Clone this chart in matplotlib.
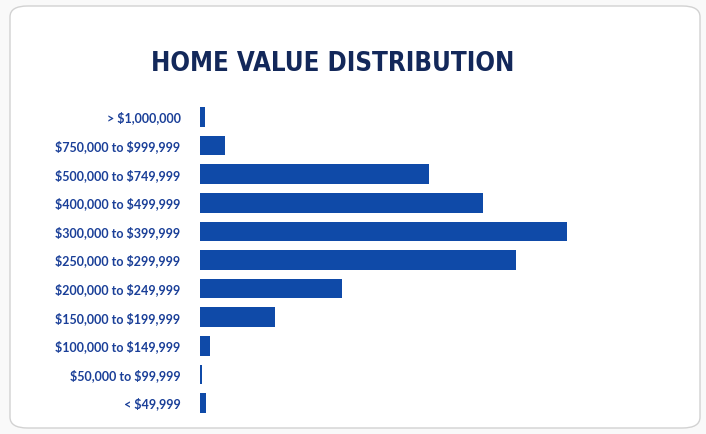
import matplotlib.pyplot as plt
from matplotlib.patches import FancyBboxPatch

# home value brackets, top to bottom
categories = ["> $1,000,000", "$750,000 to $999,999", "$500,000 to $749,999",
              "$400,000 to $499,999", "$300,000 to $399,999", "$250,000 to $299,999",
              "$200,000 to $249,999", "$150,000 to $199,999", "$100,000 to $149,999",
              "$50,000 to $99,999", "< $49,999"]
# share of homes (%)
shares = [0.35, 1.7, 15.7, 19.4, 25.1, 21.6, 9.7, 5.1, 0.7, 0.15, 0.4]

bar_color = "#0f4aa8"
label_color = "#1a3f98"
title_color = "#13285a"

plt.rcParams["text.parse_math"] = False

fig = plt.figure(figsize=(7.06, 4.34), dpi=100)
fig.patch.set_facecolor("#f9f9f9")

# card background
card = FancyBboxPatch((10 / 706, 6 / 434), 690 / 706, 422 / 434,
                      boxstyle="round,pad=0,rounding_size=0.025",
                      transform=fig.transFigure, facecolor="white",
                      edgecolor="#d2d2d2", linewidth=1.0, zorder=-1)
fig.patches.append(card)

ax = fig.add_axes([200 / 706, 16.7 / 434, 480 / 706, 314.6 / 434], zorder=2)
ax.set_facecolor("none")
y = range(len(categories))
ax.barh(y, shares, height=0.68, color=bar_color)
ax.set_ylim(len(categories) - 0.5, -0.5)
ax.set_xlim(0, 480 / 14.61)
ax.set_yticks(list(y))
ax.set_yticklabels(categories, fontfamily="Lato", fontweight="bold",
                   fontsize=9, color=label_color)
ax.tick_params(axis="y", length=0, pad=14)
ax.set_xticks([])
for s in ax.spines.values():
    s.set_visible(False)

fig.text(333 / 706, 1 - 64 / 434, "HOME VALUE DISTRIBUTION",
         fontfamily="DejaVu Sans", fontstretch="condensed", fontweight="bold",
         fontsize=18.5, color=title_color, ha="center", va="center", zorder=3)

fig.savefig("out.png", dpi=100, facecolor=fig.get_facecolor())
